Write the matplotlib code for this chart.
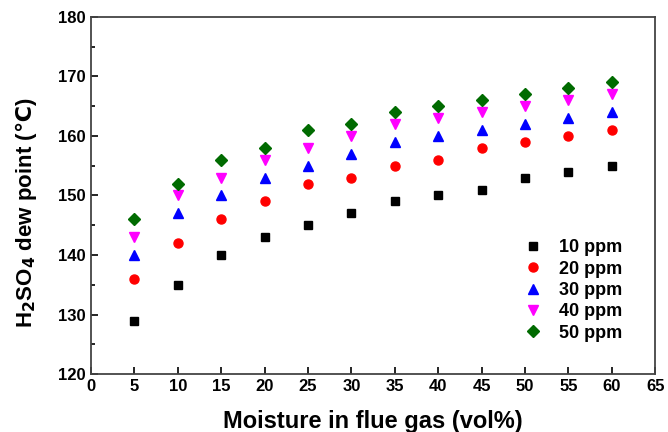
import matplotlib
matplotlib.use("Agg")
from matplotlib import pyplot as plt
from matplotlib.ticker import MultipleLocator

plt.rcParams['font.family'] = ['Liberation Sans', 'DejaVu Sans']
plt.rcParams['font.weight'] = 'bold'
plt.rcParams['mathtext.fontset'] = 'dejavusans'

moisture = [5, 10, 15, 20, 25, 30, 35, 40, 45, 50, 55, 60]
ppm10 = [129, 135, 140, 143, 145, 147, 149, 150, 151, 153, 154, 155]
ppm20 = [136, 142, 146, 149, 152, 153, 155, 156, 158, 159, 160, 161]
ppm30 = [140, 147, 150, 153, 155, 157, 159, 160, 161, 162, 163, 164]
ppm40 = [143, 150, 153, 156, 158, 160, 162, 163, 164, 165, 166, 167]
ppm50 = [146, 152, 156, 158, 161, 162, 164, 165, 166, 167, 168, 169]
labels = ['10 ppm', '20 ppm', '30 ppm', '40 ppm', '50 ppm']

fig = plt.figure(figsize=(6.68, 4.32), dpi=100)
ax = fig.add_axes([0.136, 0.134, 0.845, 0.827])

styles = [('s', 'black', 6), ('o', 'red', 6.5), ('^', 'blue', 7.5),
          ('v', 'magenta', 7.5), ('D', '#006b00', 6)]
for ys, lab, (m, c, ms) in zip([ppm10, ppm20, ppm30, ppm40, ppm50], labels, styles):
    ax.plot(moisture, ys, m, color=c, markersize=ms, label=lab, linestyle='none')

ax.set_xlim(0, 65)
ax.set_ylim(120, 180)
ax.xaxis.set_major_locator(MultipleLocator(5))
ax.yaxis.set_major_locator(MultipleLocator(10))
ax.yaxis.set_minor_locator(MultipleLocator(5))
ax.tick_params(direction='in', which='both', top=False, right=False, labelsize=12)
ax.tick_params(which='major', length=5, width=1.2)
ax.tick_params(which='minor', length=3, width=1.2)
for sp in ax.spines.values():
    sp.set_linewidth(1.3)
    sp.set_color('#444444')

ax.set_xlabel('Moisture in flue gas (vol%)', fontsize=17, fontweight='bold')
ax.xaxis.set_label_coords(0.5, -0.1)
ax.set_ylabel('H$_\\mathbf{2}$SO$_\\mathbf{4}$ dew point ($\\mathbf{\u2103}$)', fontsize=16,
              fontweight='bold')
ax.yaxis.set_label_coords(-0.092, 0.45)

ax.legend(loc='lower right', bbox_to_anchor=(0.97, 0.045), frameon=False, fontsize=13,
          handletextpad=0.7, labelspacing=0.24, handlelength=1.5)

fig.savefig('out.png', dpi=100)
